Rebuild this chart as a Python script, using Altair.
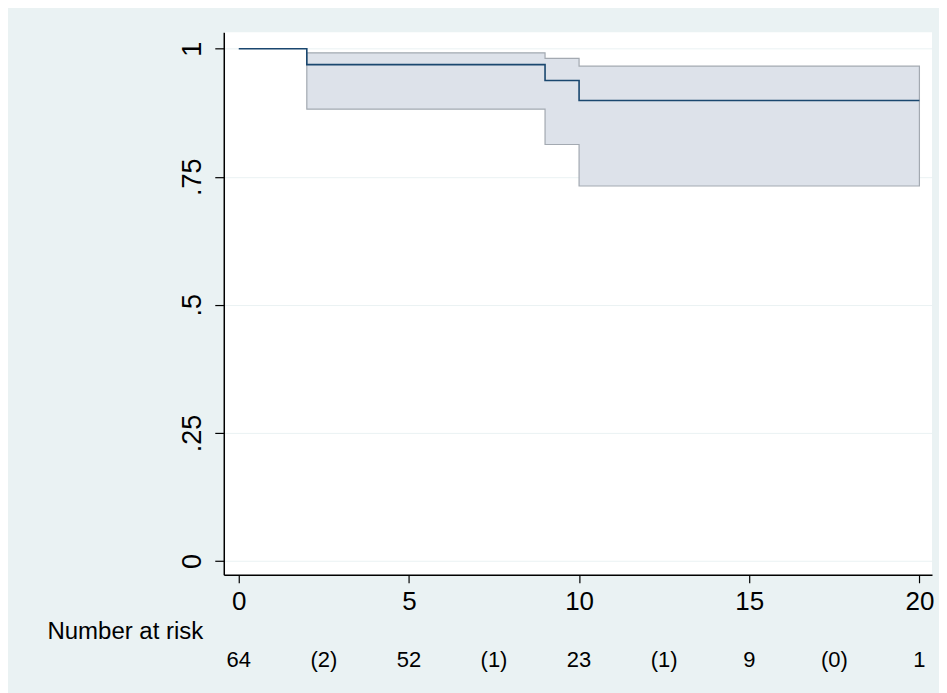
import altair as alt
import pandas as pd

# Kaplan-Meier estimate (step function)
km_time = [0, 2, 9, 10, 20]
km_surv = [1.0, 0.969, 0.938, 0.899, 0.899]

# 95% confidence band
ci_time = [2, 9, 10, 20]
ci_lower = [0.882, 0.813, 0.732, 0.732]
ci_upper = [0.992, 0.981, 0.966, 0.966]

# Number-at-risk table
risk_time = [0, 2.5, 5, 7.5, 10, 12.5, 15, 17.5, 20]
risk_label = ["64", "(2)", "52", "(1)", "23", "(1)", "9", "(0)", "1"]
risk_row_title = "Number at risk"

# Axis ticks
x_ticks = [0, 5, 10, 15, 20]
y_ticks = [0, 0.25, 0.5, 0.75, 1]
y_tick_labels = ["0", ".25", ".5", ".75", "1"]

FONT = "Liberation Sans"
BG = "#EAF2F3"
NAVY = "#1A476F"

km_df = pd.DataFrame({"t": km_time, "s": km_surv})
ci_df = pd.DataFrame({"t": ci_time, "lo": ci_lower, "hi": ci_upper})
risk_df = pd.DataFrame({"t": risk_time, "label": risk_label, "row": ["r"] * len(risk_time)})

x_scale = alt.Scale(domain=[-0.44, 20.37], nice=False, zero=False)
y_scale = alt.Scale(domain=[-0.027, 1.032], nice=False, zero=False)

y_label_expr = " : ".join(
    f"datum.value == {v} ? '{l}'" for v, l in zip(y_ticks, y_tick_labels)
) + " : ''"

x_axis = alt.Axis(
    values=x_ticks, format="d", title=None, grid=False,
    labelFont=FONT, labelFontSize=26, labelColor="black", labelAngle=0,
    tickColor="black", tickSize=8, tickWidth=1.2,
    domainColor="black", domainWidth=1.5, labelPadding=6,
)
y_axis = alt.Axis(
    values=y_ticks, labelExpr=y_label_expr, title=None, grid=True,
    gridColor=BG, gridWidth=1,
    labelFont=FONT, labelFontSize=27, labelColor="black", labelAngle=270,
    tickColor="black", tickSize=9, tickWidth=1.2,
    domainColor="black", domainWidth=1.5, labelPadding=8,
)

band = alt.Chart(ci_df).mark_area(
    interpolate="step-after", fill="#DDE2EA", stroke="#A3A9B1", strokeWidth=1.2
).encode(
    x=alt.X("t:Q", scale=x_scale, axis=x_axis),
    y=alt.Y("lo:Q", scale=y_scale, axis=y_axis),
    y2="hi:Q",
)

line = alt.Chart(km_df).mark_line(
    interpolate="step-after", color=NAVY, strokeWidth=1.6
).encode(
    x=alt.X("t:Q", scale=x_scale),
    y=alt.Y("s:Q", scale=y_scale),
)

top = alt.layer(band, line).properties(
    width=709, height=543,
    view=alt.ViewBackground(fill="white", stroke=None),
)

bottom = alt.Chart(risk_df).mark_text(
    font=FONT, fontSize=22, color="black"
).encode(
    x=alt.X("t:Q", scale=x_scale, axis=None),
    y=alt.Y("row:N", axis=alt.Axis(
        title=None, domain=False, ticks=False, grid=False,
        labelExpr=f"'{risk_row_title}'", labelFont=FONT, labelFontSize=24,
        labelColor="black", labelPadding=21, labelOffset=-28, labelLimit=400,
    )),
    text="label:N",
).properties(width=709, height=40)

chart = alt.vconcat(top, bottom, spacing=5).properties(
    background=BG,
    padding={"left": 38, "top": 24, "right": 5, "bottom": 22},
).configure_view(stroke=None)

chart.save("out.html", embed_options={"renderer": "svg", "actions": False})
